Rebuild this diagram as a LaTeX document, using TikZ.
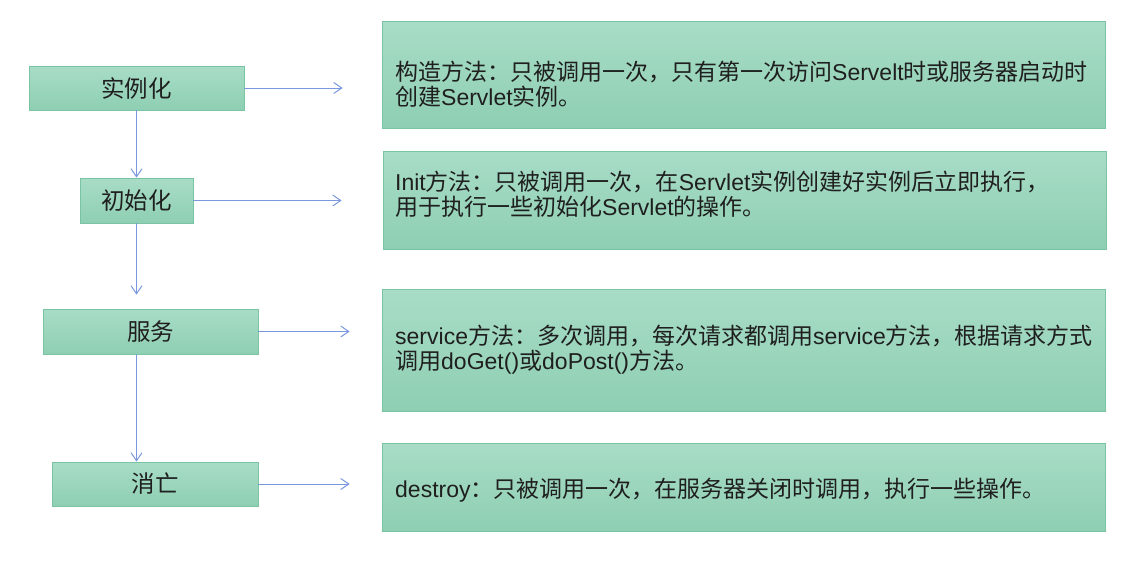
\documentclass[tikz,border=0pt]{standalone}
\usepackage{fontspec}
\setmainfont{Noto Sans CJK SC}
\newfontfamily\enfont{Liberation Sans}
\newcommand{\en}[1]{{\enfont #1}}
\usetikzlibrary{arrows.meta}
\definecolor{boxtop}{RGB}{168,220,198}
\definecolor{boxbot}{RGB}{142,207,179}
\definecolor{boxline}{RGB}{122,196,164}
\definecolor{arrowblue}{RGB}{122,152,222}
\tikzstyle{stage}=[draw=boxline, top color=boxtop, bottom color=boxbot, line width=0.8pt, inner sep=0pt, text=black!88, font=\fontsize{23.5}{28}\selectfont]
\tikzstyle{descbox}=[draw=boxline, top color=boxtop, bottom color=boxbot, line width=0.8pt, inner sep=0pt, minimum width=723pt]
\tikzstyle{desc}=[anchor=west, align=left, inner sep=0pt, text=black!88, font=\fontsize{23}{25}\selectfont]
\tikzstyle{flow}=[-{Straight Barb[length=8pt,width=11pt]}, draw=arrowblue, line width=1pt]

\begin{document}
\begin{tikzpicture}[x=1pt,y=-1pt]
\useasboundingbox[fill=white] (0,0) rectangle (1140,570);

% stages
\node[stage, minimum width=215pt, minimum height=44pt] (inst) at (136.5, 88)  {实例化};
\node[stage, minimum width=113pt, minimum height=45pt] (init) at (136.5, 200.5) {初始化};
\node[stage, minimum width=215pt, minimum height=45pt] (serv) at (150.5, 331.5) {服务};
\node[stage, minimum width=206pt, minimum height=44pt] (dest) at (155, 484)   {消亡};

% descriptions
\node[descbox, minimum height=107pt] (d1) at (743.5, 74.5) {};
\node[descbox, minimum height=98pt]  (d2) at (744.5, 200)  {};
\node[descbox, minimum height=122pt] (d3) at (743.5, 350)  {};
\node[descbox, minimum height=88pt]  (d4) at (743.5, 487)  {};

\node[desc] (t1) at (395, 84.5)  {构造方法：只被调用一次，只有第一次访问\en{Servelt}时或服务器启动时\\创建\en{Servlet}实例。};
\node[desc] (t2) at (395, 194.5) {\en{Init}方法：只被调用一次，在\en{Servlet}实例创建好实例后立即执行，\\用于执行一些初始化\en{Servlet}的操作。};
\node[desc] (t3) at (395, 349.5) {\en{service}方法：多次调用，每次请求都调用\en{service}方法，根据请求方式\\调用\en{doGet()}或\en{doPost()}方法。};
\node[desc] (t4) at (395, 490)   {\en{destroy}：只被调用一次，在服务器关闭时调用，执行一些操作。};

\draw[flow] (inst.south) -- (init.north);
\draw[flow, shorten >=14pt] (init.south) -- (init.south |- serv.north);
\draw[flow] (serv.south -| init.south) -- (dest.north -| init.south);

\draw[flow, shorten >=39pt] (inst.east) -- (inst.east -| d1.west);
\draw[flow, shorten >=41pt] (init.east) -- (init.east -| d2.west);
\draw[flow, shorten >=32pt] (serv.east) -- (serv.east -| d3.west);
\draw[flow, shorten >=32pt] (dest.east) -- (dest.east -| d4.west);

\end{tikzpicture}
\end{document}
